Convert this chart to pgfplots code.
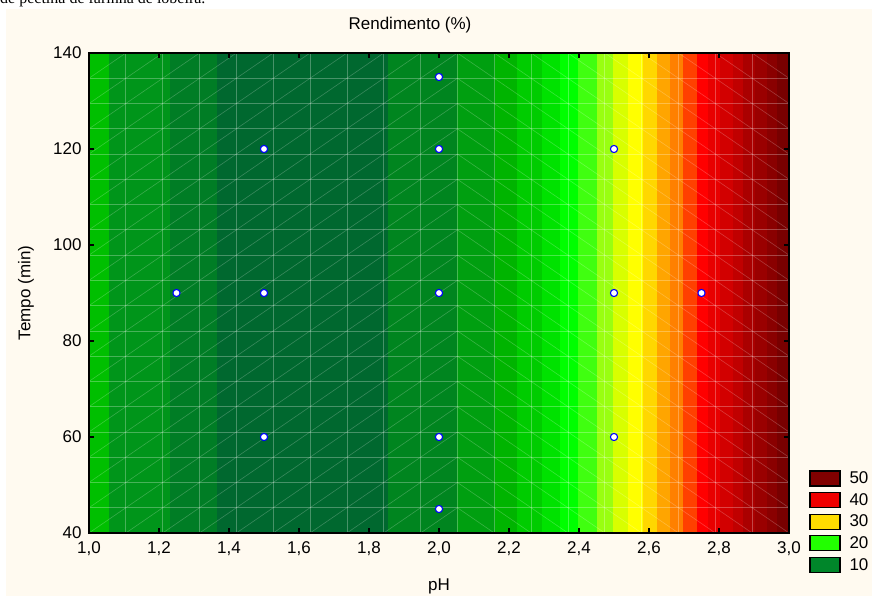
\documentclass[border=0pt]{standalone}
\usepackage{pgfplots}
\pgfplotsset{compat=1.18}
\usepackage{fontspec}
\setmainfont{Liberation Sans}
\newfontfamily\serif{Liberation Serif}

\definecolor{cream}{HTML}{FFFAF0}
\definecolor{c1}{HTML}{00BF00}
\definecolor{c2}{HTML}{00951A}
\definecolor{c3}{HTML}{007D25}
\definecolor{c4}{HTML}{00682F}
\definecolor{c5}{HTML}{00851F}
\definecolor{c6}{HTML}{009F10}
\definecolor{c7}{HTML}{00B400}
\definecolor{c8}{HTML}{00CC00}
\definecolor{c9}{HTML}{00E200}
\definecolor{c10}{HTML}{00FF00}
\definecolor{c11}{HTML}{40FF10}
\definecolor{c12}{HTML}{99FF10}
\definecolor{c13}{HTML}{D8FF00}
\definecolor{c14}{HTML}{FFFF00}
\definecolor{c15}{HTML}{FFD700}
\definecolor{c16}{HTML}{FFA500}
\definecolor{c17}{HTML}{FF8000}
\definecolor{c18}{HTML}{FF4000}
\definecolor{c19}{HTML}{FF0000}
\definecolor{c20}{HTML}{E80000}
\definecolor{c21}{HTML}{D20000}
\definecolor{c22}{HTML}{C00000}
\definecolor{c23}{HTML}{AA0000}
\definecolor{c24}{HTML}{9A0000}
\definecolor{c25}{HTML}{8A0000}
\definecolor{c26}{HTML}{780000}
\definecolor{l50}{HTML}{800000}
\definecolor{l40}{HTML}{F00000}
\definecolor{l30}{HTML}{FFDD00}
\definecolor{l20}{HTML}{22FF00}
\definecolor{l10}{HTML}{00862A}

\newcommand{\band}[3]{\addplot[fill=#3, draw=#3, line width=0.4pt, forget plot] coordinates {(#1,40) (#2,40) (#2,140) (#1,140)} -- cycle;}

\pgfplotstableread{
ph tempo
1.25 90
1.5 60
1.5 90
1.5 120
2.0 45
2.0 60
2.0 90
2.0 120
2.0 135
2.5 60
2.5 90
2.5 120
2.75 90
}\pontos

\pgfplotsset{common/.style={
  at={(89pt,63pt)}, anchor=south west,
  width=700pt, height=480pt, scale only axis,
  xmin=1, xmax=3, ymin=40, ymax=140}}

\begin{document}
\begin{tikzpicture}[x=1pt,y=1pt]
\useasboundingbox (0,0) rectangle (872,596);
\fill[white] (0,0) rectangle (872,596);
\fill[cream] (6,0) rectangle (872,587);
\node[anchor=base west, inner sep=0pt, font=\serif\fontsize{16}{19}\selectfont] at (0,592) {de pectina de farinha de lobeira.};
\begin{axis}[common, hide axis]
\band{1.000}{1.057}{c1}
\band{1.057}{1.231}{c2}
\band{1.231}{1.366}{c3}
\band{1.366}{1.854}{c4}
\band{1.854}{2.051}{c5}
\band{2.051}{2.160}{c6}
\band{2.160}{2.223}{c7}
\band{2.223}{2.294}{c8}
\band{2.294}{2.346}{c9}
\band{2.346}{2.397}{c10}
\band{2.397}{2.451}{c11}
\band{2.451}{2.497}{c12}
\band{2.497}{2.540}{c13}
\band{2.540}{2.583}{c14}
\band{2.583}{2.623}{c15}
\band{2.623}{2.660}{c16}
\band{2.660}{2.697}{c17}
\band{2.697}{2.737}{c18}
\band{2.737}{2.769}{c19}
\band{2.769}{2.803}{c20}
\band{2.803}{2.840}{c21}
\band{2.840}{2.869}{c22}
\band{2.869}{2.903}{c23}
\band{2.903}{2.937}{c24}
\band{2.937}{2.966}{c25}
\band{2.966}{3.000}{c26}
\end{axis}
% faint triangulation mesh (decoration)
\begin{scope}
  \clip (89,63) rectangle (789,543);
  \foreach \k in {1,...,18}{
    \draw[white, opacity=0.28, line width=0.7pt] ({89+36.842*\k},63) -- ({89+36.842*\k},543);
    \draw[white, opacity=0.28, line width=0.7pt] (89,{63+25.263*\k}) -- (789,{63+25.263*\k});
  }
\end{scope}
\begin{scope}
  \clip (89,63) rectangle (457.42,543);
  \foreach \m in {-19,...,19}{
    \draw[white, opacity=0.22, line width=0.6pt] (89,{63+25.263*\m}) -- (789,{543+25.263*\m});
  }
\end{scope}
\begin{scope}
  \clip (457.42,63) rectangle (789,543);
  \foreach \m in {0,...,28}{
    \draw[white, opacity=0.22, line width=0.6pt] (457.42,{63+25.263*\m}) -- (825.84,{-189.63+25.263*\m});
  }
\end{scope}
\begin{axis}[common,
  xtick={1,1.2,1.4,1.6,1.8,2,2.2,2.4,2.6,2.8,3},
  ytick={40,60,80,100,120,140},
  /pgf/number format/assume math mode=true,
  tick label style={font=\fontsize{17}{20}\selectfont},
  xticklabel style={/pgf/number format/fixed, /pgf/number format/fixed zerofill, /pgf/number format/precision=1, /pgf/number format/use comma, yshift=-5pt},
  yticklabel style={xshift=-4pt},
  tick align=inside,
  major tick length=5pt,
  every tick/.style={black, line width=1.2pt},
  axis line style={line width=1.4pt},
  title={Rendimento (\%)},
  title style={at={(axis description cs:0.4586,1.0458)}, anchor=center, font=\fontsize{17}{20}\selectfont},
  xlabel={pH},
  xlabel style={at={(axis description cs:0.5,-0.1104)}, anchor=center, font=\fontsize{17}{20}\selectfont},
  ylabel={Tempo (min)},
  ylabel style={at={(axis description cs:-0.09,0.5)}, anchor=center, font=\fontsize{17}{20}\selectfont},
  legend image code/.code={\draw[#1, draw=black, line width=1.3pt] (0pt,-7.5pt) rectangle (30pt,7.5pt);},
  legend style={at={(axis description cs:1.0286,0.131)}, anchor=north west, draw=none, fill=none,
    inner sep=0pt, row sep=5.3pt, column sep=9pt, font=\fontsize{17}{20}\selectfont,
    nodes={inner xsep=0pt, inner ysep=0pt}},
  legend cell align=left,
]
\addplot[only marks, mark=*, mark size=3.6pt, mark options={draw=blue, fill=white, line width=1.1pt}, forget plot] table[x=ph, y=tempo] {\pontos};
\addlegendimage{fill=l50}\addlegendentry{50}
\addlegendimage{fill=l40}\addlegendentry{40}
\addlegendimage{fill=l30}\addlegendentry{30}
\addlegendimage{fill=l20}\addlegendentry{20}
\addlegendimage{fill=l10}\addlegendentry{10}
\end{axis}
\end{tikzpicture}
\end{document}
